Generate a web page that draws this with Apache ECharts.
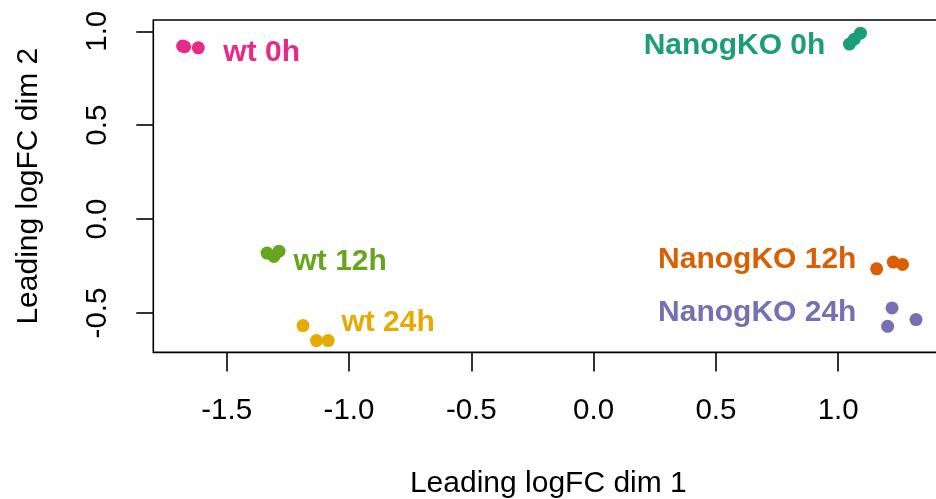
<!DOCTYPE html>
<html>
<head>
<meta charset="utf-8">
<script src="https://cdn.jsdelivr.net/npm/echarts@6/dist/echarts.min.js"></script>
<style>html,body{margin:0;padding:0;background:#fff;overflow:hidden;}#c{width:936px;height:499px;}</style>
</head>
<body>
<div id="c"></div>
<script>
// ---- data ----
const groupNames = ['wt 0h', 'wt 12h', 'wt 24h', 'NanogKO 0h', 'NanogKO 12h', 'NanogKO 24h'];
const groupColors = ['#E7298A', '#66A61E', '#E6AB02', '#1B9E77', '#D95F02', '#7570B3'];
// Leading logFC dim 1 (x) per sample, per group
const dim1Values = [
  [-1.680, -1.616, -1.672],
  [-1.335, -1.286, -1.307],
  [-1.188, -1.133, -1.085],
  [1.046, 1.066, 1.091],
  [1.157, 1.225, 1.263],
  [1.220, 1.202, 1.318]
];
// Leading logFC dim 2 (y) per sample, per group
const dim2Values = [
  [0.921, 0.912, 0.918],
  [-0.181, -0.171, -0.199],
  [-0.567, -0.647, -0.647],
  [0.932, 0.958, 0.990],
  [-0.265, -0.229, -0.242],
  [-0.473, -0.571, -0.535]
];
// group label anchor positions (data units)
const labelDim1 = [-1.357, -1.036, -0.840, 0.576, 0.669, 0.669];
const labelDim2 = [0.886, -0.229, -0.554, 0.925, -0.218, -0.500];
const xTicks = [-1.5, -1.0, -0.5, 0.0, 0.5, 1.0];
const yTicks = [-0.5, 0.0, 0.5, 1.0];

// ---- chart ----
const FONT = '"Liberation Sans", Arial, Helvetica, sans-serif';
const chart = echarts.init(document.getElementById('c'), null, {renderer: 'canvas'});

const series = groupNames.map((g, i) => ({
  name: g,
  type: 'scatter',
  symbol: 'circle',
  symbolSize: 13,
  itemStyle: {color: groupColors[i], opacity: 1},
  emphasis: {disabled: true},
  data: dim1Values[i].map((x, j) => [x, dim2Values[i][j]])
}));

groupNames.forEach((g, i) => {
  series.push({
    type: 'scatter',
    symbolSize: 0,
    itemStyle: {color: groupColors[i], opacity: 1},
    emphasis: {disabled: true},
    silent: true,
    z: 3,
    label: {
      show: true,
      position: 'inside',
      formatter: g,
      color: groupColors[i],
      opacity: 1,
      textBorderWidth: 0,
      fontFamily: FONT,
      fontWeight: 'bold',
      fontSize: 30
    },
    data: [[labelDim1[i], labelDim2[i]]]
  });
});

chart.setOption({
  animation: false,
  backgroundColor: '#ffffff',
  grid: {
    left: 153.3, top: 20, width: 790.1, height: 332.4,
    outerBoundsMode: 'none',
    containLabel: false,
    show: true, borderColor: '#000', borderWidth: 1.6, backgroundColor: 'transparent'
  },
  xAxis: {
    type: 'value',
    min: -1.8, max: 1.43,
    name: 'Leading logFC dim 1',
    nameLocation: 'middle',
    nameGap: 116,
    nameTextStyle: {fontFamily: FONT, fontSize: 30, color: '#000'},
    axisLine: {show: false, onZero: false},
    splitLine: {show: false},
    axisTick: {show: true, length: 19, lineStyle: {color: '#000', width: 1.6}, customValues: xTicks},
    axisLabel: {
      show: true, margin: 43, fontFamily: FONT, fontSize: 29.5, color: '#000',
      customValues: xTicks,
      formatter: v => Number(v).toFixed(1)
    }
  },
  yAxis: {
    type: 'value',
    min: -0.71, max: 1.06,
    name: 'Leading logFC dim 2',
    nameLocation: 'middle',
    nameRotate: 90,
    nameGap: 110,
    nameTextStyle: {fontFamily: FONT, fontSize: 30, color: '#000'},
    axisLine: {show: false, onZero: false},
    splitLine: {show: false},
    axisTick: {show: true, length: 17, lineStyle: {color: '#000', width: 1.6}, customValues: yTicks},
    axisLabel: {
      show: true, margin: 40, rotate: 90, fontFamily: FONT, fontSize: 29.5, color: '#000',
      customValues: yTicks,
      formatter: v => Number(v).toFixed(1)
    }
  },
  series: series
});
</script>
</body>
</html>
